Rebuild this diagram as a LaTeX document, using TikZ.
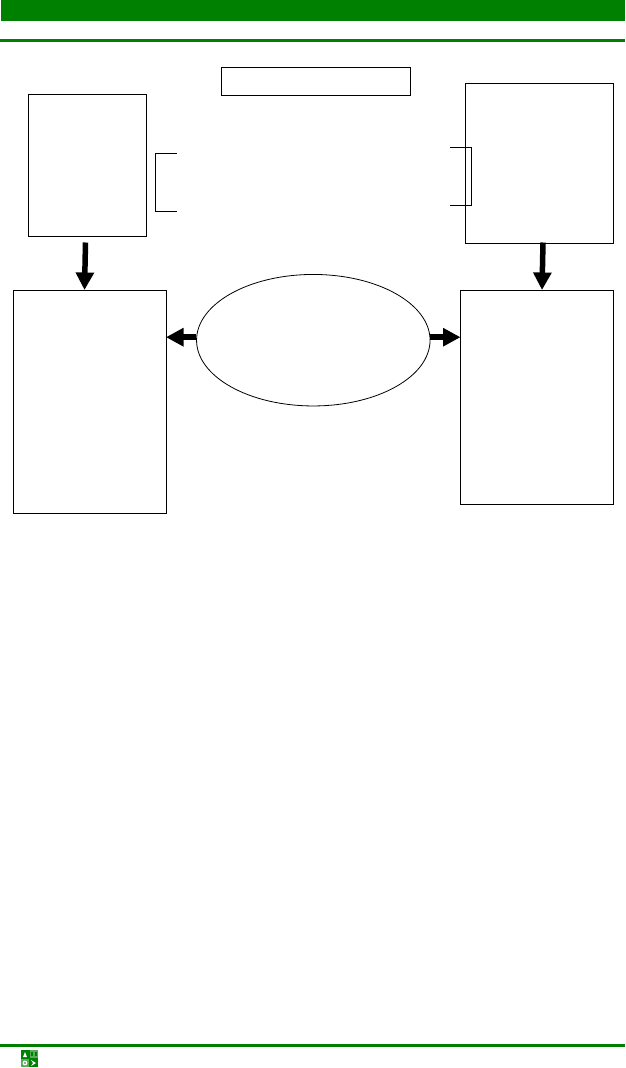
\documentclass[tikz,border=0pt]{standalone}
\usetikzlibrary{arrows.meta,shapes.geometric}
\definecolor{bargreen}{HTML}{008000}
\begin{document}
\begin{tikzpicture}[x=1pt,y=-1pt]
	\tikzstyle{panel}   = [rectangle, draw=black, line width=0.9pt, fill=white, inner sep=0pt, outer sep=0pt]
	\tikzstyle{bar}     = [fill=bargreen, draw=none]
	\tikzstyle{thick arrow} = [line width=5.5pt, -{Triangle[length=17.5pt,width=17.5pt]}]
	\tikzstyle{bracket} = [line width=0.8pt, line cap=butt]

	\useasboundingbox (0,0) rectangle (625,1068);

	% page furniture
	\fill[bar] (1,0) rectangle (625,21);
	\fill[bar] (0,39) rectangle (625,42);
	\fill[bar] (0,1044) rectangle (625,1047);

	\node[panel, minimum width=17pt, minimum height=17pt, fill=bargreen, draw=none] (logo) at (29.5,1058.5) {};
	\fill[bargreen!65!white] (30,1050) rectangle (38,1058);
	\fill[bargreen!65!white] (21,1059) rectangle (29,1067);
	\fill[white] (23,1057) -- (25,1052) -- (27,1057) -- cycle;
	\fill[bargreen] (31,1052) rectangle (33,1056);
	\fill[bargreen] (34.5,1052) rectangle (36.5,1056);
	\fill[white] (25,1063) circle (2.4);
	\fill[bargreen] (25,1063) circle (0.9);
	\fill[white] (31,1060) -- (36,1063) -- (31,1066) -- (33,1063) -- cycle;

	% boxes
	\foreach \name/\x/\y/\w/\h in {title/315.75/81.5/188.5/28, leftup/87.25/165.5/117.5/142, rightup/539.5/163.25/148/159.5, leftlow/89.5/401.5/153/223, rightlow/536.75/397/152.5/214}
		\node[panel, minimum width=\w pt, minimum height=\h pt] (\name) at (\x,\y) {};

	\node[ellipse, draw=black, line width=0.8pt, fill=white, inner sep=0pt, minimum width=233.5pt, minimum height=131.5pt] (oval) at (313.3,340.2) {};

	% brackets
	\coordinate (brAtop) at (177,153.5);
	\coordinate (brAbot) at (177,211);
	\coordinate (brBtop) at (450,147);
	\coordinate (brBbot) at (450,205.5);
	\draw[bracket] (brAtop) -- ++(-21.5,0) |- (brAbot);
	\draw[bracket] (brBtop) -- ++(21.7,0) |- (brBbot);

	% arrows
	\coordinate (leftstart) at (85.5,242.5);
	\coordinate (rightstart) at (543,242.5);
	\draw[thick arrow] (leftstart) -- ([xshift=-5pt]leftlow.north);
	\draw[thick arrow] (rightstart) -- ([xshift=5.25pt]rightlow.north);

	\foreach \from/\to in {oval.west/leftlow.east, oval.east/rightlow.west}
		\draw[thick arrow] ([yshift=3pt]\from) -- ([yshift=3pt]\to |- oval.center);
\end{tikzpicture}
\end{document}
